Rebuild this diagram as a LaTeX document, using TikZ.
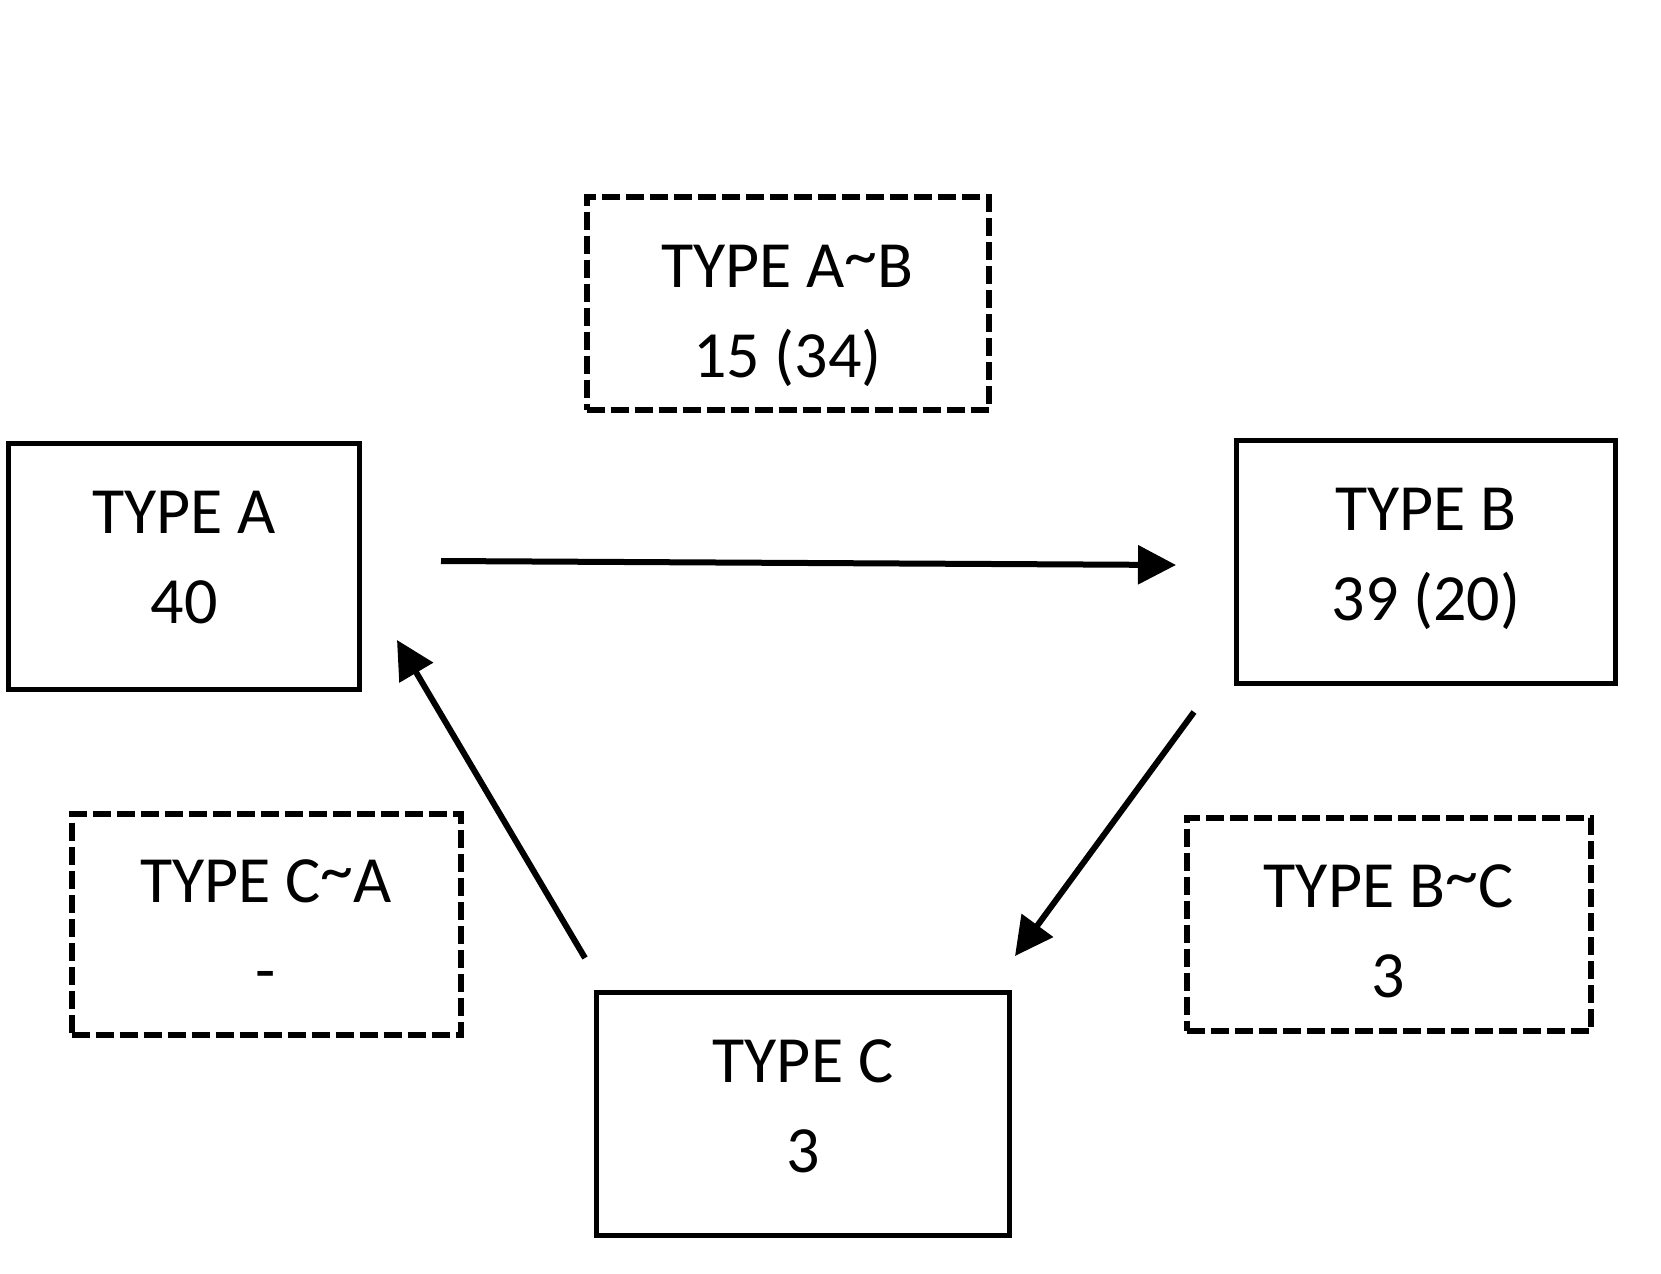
\documentclass[tikz,border=0pt]{standalone}
\usepackage{fontspec}
\setmainfont{Carlito}
\usetikzlibrary{arrows.meta}
\newcommand{\boxtext}[3]{\raisebox{#1}[0pt][0pt]{\begin{tabular}[b]{@{}c@{}}#2\\#3\end{tabular}}}
\newcommand{\hightilde}{\raisebox{0.14em}{\textasciitilde}}
\begin{document}
\begin{tikzpicture}[x=0.5pt,y=-0.5pt,
  solidbox/.style={draw=black, line width=2.5pt, inner sep=0pt, font=\fontsize{33}{45}\selectfont},
  dashbox/.style={solidbox, line width=3pt, dash pattern=on 9pt off 3pt},
  flow/.style={draw=black, line width=3pt, -{Triangle[length=19pt,width=19pt]}}]
\useasboundingbox[fill=white] (0,0) rectangle (1661,1274);
% solid boxes
\node[solidbox, minimum width=175.5pt, minimum height=123pt] (A) at (184,566.5) {\boxtext{-28.25pt}{TYPE A}{40}};
\node[solidbox, minimum width=189.5pt, minimum height=121.5pt] (B) at (1426,562) {\boxtext{-29pt}{TYPE B}{39 (20)}};
\node[solidbox, minimum width=206.5pt, minimum height=121.5pt] (C) at (803,1114) {\boxtext{-29pt}{TYPE C}{3}};
% dashed boxes
\node[dashbox, minimum width=201pt, minimum height=106.5pt] (AB) at (787.5,303) {\boxtext{-37pt}{TYPE A\hightilde B}{15 (34)}};
\node[dashbox, minimum width=194.5pt, minimum height=110.5pt] (CA) at (266,924) {\boxtext{-34pt}{TYPE C\hightilde A}{-}};
\node[dashbox, minimum width=202pt, minimum height=106.5pt] (BC) at (1388.5,924) {\boxtext{-36.5pt}{TYPE B\hightilde C}{3}};
% arrow end points
\coordinate (ABs) at (441,561);
\coordinate (ABe) at (1176,565);
\coordinate (BCs) at (1194,712);
\coordinate (BCe) at (1015,956);
\coordinate (CAs) at (585,958);
\coordinate (CAe) at (397,640);
\draw[flow] (ABs) -- (ABe);
\draw[flow] (BCs) -- (BCe);
\draw[flow] (CAs) -- (CAe);
\end{tikzpicture}
\end{document}
